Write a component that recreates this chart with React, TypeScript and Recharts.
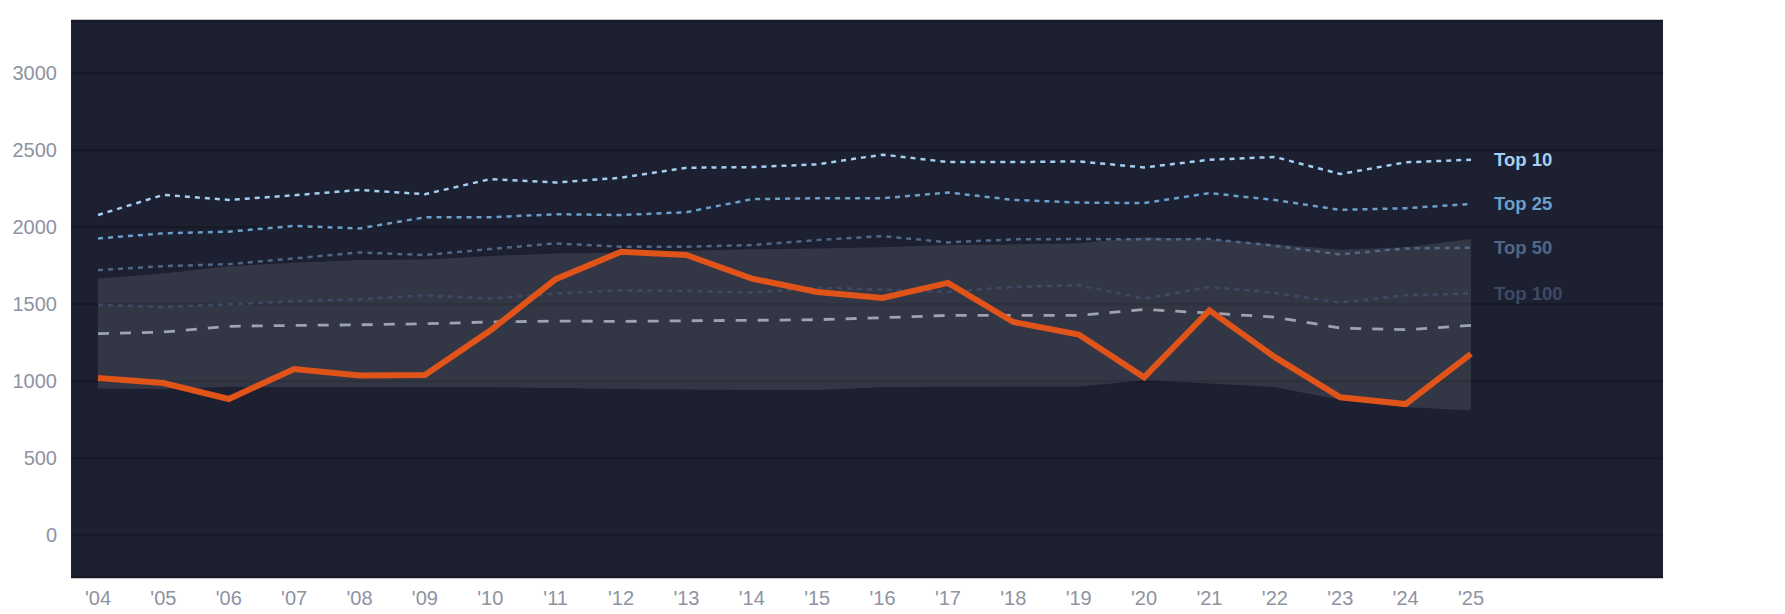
import React from 'react';
import { ComposedChart, Area, Line, XAxis, YAxis, CartesianGrid, LabelList } from 'recharts';

const years = [2004, 2005, 2006, 2007, 2008, 2009, 2010, 2011, 2012, 2013, 2014, 2015, 2016, 2017, 2018, 2019, 2020, 2021, 2022, 2023, 2024, 2025];
const top10 = [2080, 2211, 2178, 2208, 2243, 2215, 2313, 2291, 2322, 2387, 2391, 2409, 2472, 2424, 2424, 2428, 2389, 2439, 2457, 2346, 2422, 2439];
const top25 = [1928, 1961, 1972, 2009, 1993, 2065, 2065, 2085, 2080, 2098, 2183, 2189, 2189, 2226, 2178, 2161, 2157, 2222, 2178, 2113, 2124, 2152];
const top50 = [1722, 1748, 1761, 1798, 1837, 1820, 1859, 1896, 1874, 1874, 1885, 1917, 1943, 1902, 1922, 1924, 1922, 1924, 1880, 1824, 1863, 1867];
const top100 = [1496, 1483, 1500, 1520, 1533, 1559, 1537, 1570, 1591, 1587, 1576, 1607, 1596, 1580, 1613, 1624, 1537, 1613, 1574, 1511, 1559, 1570];
const median = [1309, 1320, 1357, 1363, 1367, 1374, 1385, 1391, 1389, 1393, 1396, 1400, 1413, 1428, 1428, 1428, 1467, 1443, 1417, 1346, 1335, 1363];
const rating = [1022, 989, 885, 1080, 1037, 1041, 1330, 1663, 1841, 1820, 1667, 1580, 1541, 1639, 1385, 1304, 1026, 1461, 1157, 896, 852, 1178];
const bandHigh = [1667, 1700, 1748, 1770, 1787, 1791, 1813, 1830, 1835, 1848, 1857, 1863, 1870, 1885, 1889, 1896, 1935, 1922, 1890, 1855, 1870, 1924];
const bandLow = [954, 950, 965, 961, 961, 961, 961, 957, 950, 946, 943, 943, 961, 965, 967, 967, 1005, 985, 962, 880, 833, 810];
const yTicks = [0, 500, 1000, 1500, 2000, 2500, 3000];

const data = years.map((year, i) => ({
  year,
  top10: top10[i],
  top25: top25[i],
  top50: top50[i],
  top100: top100[i],
  median: median[i],
  rating: rating[i],
  band: [bandLow[i], bandHigh[i]],
}));

const last = years.length - 1;
const font = '"Liberation Sans", Arial, sans-serif';

const endLabel = (text: string, color: string) => (props: any) => {
  if (props.index !== last) return null;
  return (
    <text
      x={Number(props.x) + 23}
      y={Number(props.y)}
      fill={color}
      fontSize={18.5}
      fontWeight="bold"
      fontFamily={font}
      dominantBaseline="central"
    >
      {text}
    </text>
  );
};

const series = [
  { key: 'top100', name: 'Top 100', color: '#3e4a63' },
  { key: 'top50', name: 'Top 50', color: '#506886' },
  { key: 'top25', name: 'Top 25', color: '#6c9fcb' },
  { key: 'top10', name: 'Top 10', color: '#a3cff2' },
];

export default function App() {
  return (
    <div style={{ width: 1777, height: 606 }}>
      <ComposedChart width={1777} height={606} data={data} margin={{ top: 13, right: 122, bottom: 7, left: 0 }}>
        <CartesianGrid vertical={false} fill="#1c2030" stroke="#161a26" strokeWidth={2.5} />
        <XAxis
          dataKey="year"
          type="number"
          domain={[2004, 2025]}
          ticks={years}
          interval={0}
          padding={{ left: 27, right: 192 }}
          tickFormatter={(v) => `'${String(v).slice(2)}`}
          axisLine={false}
          tickLine={false}
          tickSize={0}
          tickMargin={14}
          height={30}
          tick={{ fill: '#8d93a1', fontSize: 20, fontFamily: font }}
        />
        <YAxis
          domain={[-271, 3340]}
          ticks={yTicks}
          allowDataOverflow
          axisLine={false}
          tickLine={false}
          tickSize={0}
          tickMargin={14}
          width={63}
          tick={{ fill: '#8d93a1', fontSize: 20, fontFamily: font }}
        />
        <Area
          dataKey="band"
          type="linear"
          stroke="none"
          fill="#ffffff"
          fillOpacity={0.1}
          isAnimationActive={false}
          activeDot={false}
        />
        {series.map((s) => (
          <Line
            key={s.key}
            dataKey={s.key}
            type="linear"
            stroke={s.color}
            strokeWidth={2.5}
            strokeDasharray="5 5"
            dot={false}
            activeDot={false}
            isAnimationActive={false}
          >
            <LabelList dataKey={s.key} content={endLabel(s.name, s.color)} />
          </Line>
        ))}
        <Line
          dataKey="median"
          type="linear"
          stroke="#9ea4ae"
          strokeWidth={2.8}
          strokeDasharray="11 11"
          dot={false}
          activeDot={false}
          isAnimationActive={false}
        />
        <Line
          dataKey="rating"
          type="linear"
          stroke="#e0541a"
          strokeWidth={6}
          dot={false}
          activeDot={false}
          isAnimationActive={false}
        />
      </ComposedChart>
    </div>
  );
}
